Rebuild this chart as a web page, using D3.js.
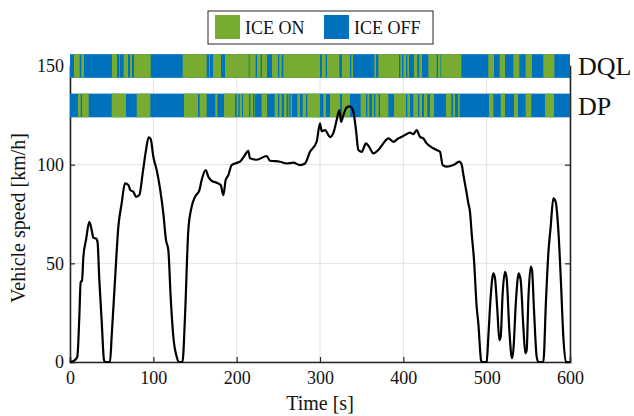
<!DOCTYPE html>
<html>
<head>
<meta charset="utf-8">
<script src="https://cdn.jsdelivr.net/npm/d3@7"></script>
<style>
  body { margin: 0; background: #fff; }
  text { font-family: "Liberation Serif", "Times New Roman", serif; fill: #111; }
</style>
</head>
<body>
<div id="chart"></div>
<script>
// speed trace [s, km/h]
var time = [0, 6, 8.8, 11.2, 12.8, 14.4, 16, 19.2, 23.2, 26, 28, 31.2, 33, 35.2, 38, 40.8, 42, 48,
  50, 54, 58, 62, 66, 70, 72.5, 76, 79.2, 83.2, 87.2, 91.2, 94.4, 96.8, 100, 104, 108, 112, 115.2,
  118, 120.8, 124, 128, 131, 135, 138, 142, 146, 150, 155.2, 158, 162.8, 166, 170, 176, 180.8, 184,
  186.8, 190, 194, 198, 204, 209.2, 214, 216, 224, 236, 240, 252, 260, 268, 276, 282, 288, 296,
  300, 302, 306, 312, 316, 320, 323.2, 325.2, 328, 332, 336, 340, 343.2, 346, 350, 355.2, 359, 364,
  370, 376, 382, 388, 394, 402, 408, 412, 416, 420, 424, 428, 434, 440, 444, 447.2, 452, 460, 467.2,
  470, 472, 476, 478, 480, 482, 484.8, 488, 490, 493.2, 494, 500, 502, 504.8, 508, 510, 512.8, 515.2,
  516.8, 519.2, 522, 524, 527.2, 530.4, 532, 535.2, 538.4, 540.8, 544, 546.4, 548, 550, 552.8, 554.4,
  556.8, 560, 562, 568, 571.2, 574, 576.8, 580, 582.8, 586, 589.2, 592, 595, 600];
var speed = [0, 1, 2.7, 23, 40.7, 41, 53, 61.8, 71, 66.9, 63, 62.6, 61, 41.5, 21, 1, 0, 0,
  13, 41.5, 68.5, 80.4, 90.5, 89.7, 87, 86.3, 83.7, 84.6, 95.6, 107.4, 113.8, 113, 104, 97.3, 88, 75.3, 61.8,
  56.7, 33, 12.8, 2.7, 0, 0, 23, 66.9, 78.7, 83.7, 87, 92.2, 97.3, 93.9, 91.8, 90.8, 89.7, 84.6,
  92.2, 94.7, 99.8, 100.6, 101.5, 104.4, 107, 103.2, 102.5, 104.4, 102, 101.5, 100.6, 101, 99.8, 100.6, 106.5, 111.6,
  120.9, 117, 117.5, 114, 116, 122.6, 127.7, 121.7, 125, 129, 129.5, 126.8, 117.5, 107.4, 106.5, 110.8, 109, 105.7,
  107.4, 110.8, 113.3, 111.6, 113.3, 115, 116.2, 115.5, 117.5, 114.1, 113.3, 110.8, 108.8, 107.4, 106.5, 99.8, 99, 99.8, 101.5,
  100, 95, 85.5, 80.4, 76.1, 65.2, 51.7, 28, 19.6, 1, 0, 0, 12.8, 33, 44.9, 42.4, 26.3, 11.1,
  12.8, 34.8, 45.7, 42.4, 16.2, 1.9, 5.9, 31.4, 44.9, 41.5, 17.9, 4.4, 5.9, 31.4, 48.3, 46.6,
  26.3, 2.7, 0, 0, 31.4, 55, 68.5, 82.9, 81.2, 66.9, 39.9, 12.8, 0, 0];

// ICE ON intervals [s]; everything else in the strip is ICE OFF
var dqlOn = [[4.8, 11.6], [13.6, 16.8], [50.4, 56.4], [58.8, 59.6], [64.4, 69.6], [72, 74.4], [76.8, 96.8],
  [135.2, 164], [167, 168], [171.6, 181.2], [186, 214.5], [215.5, 222.8], [224.4, 228.8], [230.4, 236.4],
  [242.4, 249.6], [251.2, 254], [256, 300], [302.4, 306.8], [308.4, 323.2], [326.4, 336], [337.6, 339.6],
  [365.2, 367.2], [370, 394.8], [396.4, 398.4], [400, 403.2], [404.8, 406.8], [412.8, 416.8], [419.2, 422.4],
  [430, 440], [441.6, 444.6], [445.4, 469.6], [502, 508.8], [515.6, 522], [532, 539.2], [546.8, 554.4],
  [568, 581.2]];
var dpOn = [[9.6, 12.8], [14.4, 22.4], [50, 67.2], [80, 96.4], [136.8, 153.6], [155.6, 164], [174.4, 176.8],
  [184.8, 198], [200, 202], [203.6, 206.4], [207.6, 214.8], [216.4, 219.6], [221.2, 222], [230, 236.4],
  [245.6, 249.6], [251.2, 254], [256.8, 260], [262, 263.2], [264.8, 266.4], [272.8, 276], [279.2, 283.2],
  [284.8, 300], [304, 307.2], [312, 324], [326.4, 336], [348.8, 355.2], [356.8, 359.2], [362.4, 364.8],
  [366.4, 370.4], [372, 382], [388.8, 403.2], [404.8, 408], [412, 417.6], [419.2, 422.4], [424.8, 428.8],
  [432, 436.8], [451.2, 457.6], [459.6, 462], [465.6, 467.6], [502.8, 508], [516.8, 522], [532.8, 537.6],
  [546.8, 553.6], [570, 580.8]];

var strips = [{name: "DQL", level: 150, on: dqlOn}, {name: "DP", level: 130, on: dpOn}];
var xTicks = [0, 100, 200, 300, 400, 500, 600];
var yTicks = [0, 50, 100, 150];
var legendItems = ["ICE ON", "ICE OFF"];

var GREEN = "#77AC30", BLUE = "#0072BD", AXIS = "#262626";

var svgWidth = 634, svgHeight = 416;
var margin = {top: 66, right: 64, bottom: 54, left: 70};
var width = svgWidth - margin.left - margin.right;
var height = svgHeight - margin.top - margin.bottom;

var svg = d3.select("#chart").append("svg")
  .attr("width", svgWidth)
  .attr("height", svgHeight);

var g = svg.append("g")
  .attr("transform", `translate(${margin.left}, ${margin.top})`);

var x = d3.scaleLinear().domain([0, 600]).range([0, width]);
var y = d3.scaleLinear().domain([0, 150]).range([height, 0]);

// grid
g.append("g").selectAll("line").data(xTicks).enter().append("line")
  .attr("x1", d => x(d)).attr("x2", d => x(d))
  .attr("y1", 0).attr("y2", height)
  .attr("stroke", "#e3e3e3").attr("stroke-width", 1);
g.append("g").selectAll("line").data(yTicks).enter().append("line")
  .attr("x1", 0).attr("x2", width)
  .attr("y1", d => y(d)).attr("y2", d => y(d))
  .attr("stroke", "#e3e3e3").attr("stroke-width", 1);

// axes, ticks pointing inward
var bottomAxis = d3.axisBottom(x).tickValues(xTicks).tickSize(-5).tickPadding(9);
var leftAxis = d3.axisLeft(y).tickValues(yTicks).tickSize(-5).tickPadding(6);
var rightAxis = d3.axisRight(y).tickValues(yTicks).tickSize(-5).tickFormat("");

g.append("g").attr("transform", `translate(0, ${height})`).call(bottomAxis);
g.append("g").call(leftAxis);
g.append("g").attr("transform", `translate(${width}, 0)`).call(rightAxis);

g.selectAll(".domain").attr("stroke", AXIS).attr("stroke-width", 1.6);
g.selectAll(".tick line").attr("stroke", AXIS).attr("stroke-width", 1.2);
g.selectAll(".tick text")
  .style("font-family", "'Liberation Serif', serif")
  .style("font-size", "18px")
  .attr("fill", "#111");

// ICE strips
var stripHalf = 6;
strips.forEach(function(s) {
  var sg = g.append("g");
  sg.append("rect")
    .attr("x", x(0)).attr("width", x(600) - x(0))
    .attr("y", y(s.level + stripHalf))
    .attr("height", y(s.level - stripHalf) - y(s.level + stripHalf))
    .attr("fill", BLUE);
  sg.selectAll(".on").data(s.on).enter().append("rect")
    .attr("x", d => x(d[0]))
    .attr("width", d => x(d[1]) - x(d[0]))
    .attr("y", y(s.level + stripHalf))
    .attr("height", y(s.level - stripHalf) - y(s.level + stripHalf))
    .attr("fill", GREEN);
  sg.append("text")
    .attr("x", width + 8)
    .attr("y", y(s.level))
    .attr("dy", "0.35em")
    .style("font-size", "26px")
    .text(s.name);
});

// speed line, on top of the strips
var line = d3.line()
  .x((d, i) => x(time[i]))
  .y(d => y(d))
  .curve(d3.curveMonotoneX);

g.append("path")
  .datum(speed)
  .attr("d", line)
  .attr("fill", "none")
  .attr("stroke", "#000")
  .attr("stroke-width", 2.2)
  .attr("stroke-linejoin", "round");

// axis labels
svg.append("text")
  .attr("x", margin.left + width / 2)
  .attr("y", 410)
  .attr("text-anchor", "middle")
  .style("font-size", "20px")
  .text("Time [s]");

svg.append("text")
  .attr("transform", `translate(25, ${margin.top + height / 2 + 4}) rotate(-90)`)
  .attr("text-anchor", "middle")
  .style("font-size", "20px")
  .text("Vehicle speed [km/h]");

// legend
var legend = svg.append("g").attr("transform", "translate(208, 11)");
legend.append("rect")
  .attr("width", 225).attr("height", 33)
  .attr("fill", "#fff").attr("stroke", AXIS).attr("stroke-width", 1);
var legendX = [7, 116];
legendItems.forEach(function(name, i) {
  legend.append("rect")
    .attr("x", legendX[i]).attr("y", 4)
    .attr("width", 25).attr("height", 24)
    .attr("fill", i === 0 ? GREEN : BLUE);
  legend.append("text")
    .attr("x", legendX[i] + 30).attr("y", 16.5)
    .attr("dy", "0.35em")
    .style("font-size", "18px")
    .text(name);
});
</script>
</body>
</html>
